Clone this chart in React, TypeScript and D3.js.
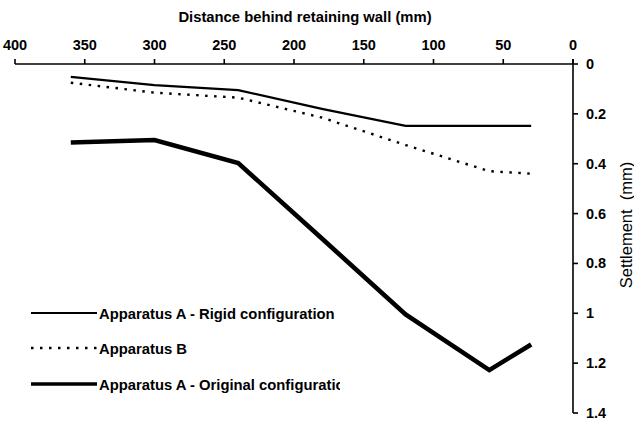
import React from "react";
import * as d3 from "d3";

const distances = [360, 300, 240, 180, 120, 60, 30];
const rigidA = [0.052, 0.085, 0.105, 0.18, 0.248, 0.248, 0.248];
const apparatusB = [0.075, 0.115, 0.135, 0.215, 0.325, 0.43, 0.44];
const originalA = [0.315, 0.305, 0.397, 0.7, 1.005, 1.228, 1.125];
const xTicks = [400, 350, 300, 250, 200, 150, 100, 50, 0];
const yTicks = [0, 0.2, 0.4, 0.6, 0.8, 1, 1.2, 1.4];
const seriesNames = [
  "Apparatus A - Rigid configuration",
  "Apparatus B",
  "Apparatus A - Original configuration",
];

const W = 634;
const H = 421;
const FONT = "'Liberation Sans', Arial, sans-serif";

export default function App() {
  const x = d3.scaleLinear().domain([400, 0]).range([15, 573]);
  const y = d3.scaleLinear().domain([0, 1.4]).range([64, 413]);
  const line = d3
    .line<[number, number]>()
    .x((d) => x(d[0]))
    .y((d) => y(d[1]));
  const mk = (vals: number[]) => line(distances.map((d, i) => [d, vals[i]] as [number, number])) || "";

  const series = [
    { vals: rigidA, width: 2.2, dash: undefined as string | undefined },
    { vals: apparatusB, width: 2.4, dash: "2.5 6.5" },
    { vals: originalA, width: 4.6, dash: undefined as string | undefined },
  ];
  const legendY = [313, 348, 384];

  return (
    <svg
      width={W}
      height={H}
      style={{ position: "absolute", left: 0, top: 0, background: "#fff" }}
      fontFamily={FONT}
    >
      <defs>
        <clipPath id="legclip">
          <rect x={0} y={0} width={340} height={H} />
        </clipPath>
      </defs>
      <rect width={W} height={H} fill="#fff" />
      {/* X axis title */}
      <text x={305} y={22} textAnchor="middle" fontSize={14.8} fontWeight="bold" fill="#000">
        Distance behind retaining wall (mm)
      </text>
      {/* X axis */}
      <line x1={x(400)} x2={x(0)} y1={y(0)} y2={y(0)} stroke="#000" strokeWidth={1.6} />
      {xTicks.map((t) => (
        <g key={t}>
          <line x1={x(t)} x2={x(t)} y1={y(0)} y2={y(0) - 5} stroke="#000" strokeWidth={1.6} />
          <text x={x(t)} y={50} textAnchor="middle" fontSize={14.5} fontWeight="bold" fill="#000">
            {t}
          </text>
        </g>
      ))}
      {/* Y axis */}
      <line x1={x(0)} x2={x(0)} y1={y(0) - 5} y2={y(1.4)} stroke="#000" strokeWidth={1.6} />
      {yTicks.map((t) => (
        <g key={t}>
          <line x1={x(0)} x2={x(0) + 5} y1={y(t)} y2={y(t)} stroke="#000" strokeWidth={1.6} />
          <text x={586} y={y(t) + 5} textAnchor="start" fontSize={14.5} fontWeight="bold" fill="#000">
            {d3.format("~g")(t)}
          </text>
        </g>
      ))}
      <text
        transform={`translate(632,225) rotate(-90)`}
        textAnchor="middle"
        fontSize={16.5}
        fill="#000"
        style={{ whiteSpace: "pre" }}
      >
        {"Settlement  (mm)"}
      </text>
      {/* Series */}
      {series.map((s, i) => (
        <path
          key={i}
          d={mk(s.vals)}
          fill="none"
          stroke="#000"
          strokeWidth={s.width}
          strokeDasharray={s.dash}
          strokeLinejoin="miter"
        />
      ))}
      {/* Legend */}
      <g clipPath="url(#legclip)">
        {series.map((s, i) => (
          <g key={i}>
            <line
              x1={31}
              x2={97}
              y1={legendY[i]}
              y2={legendY[i]}
              stroke="#000"
              strokeWidth={i === 2 ? 3.4 : s.width}
              strokeDasharray={s.dash}
            />
            <text x={99} y={legendY[i] + 5.5} fontSize={14.8} fontWeight="bold" fill="#000">
              {seriesNames[i]}
            </text>
          </g>
        ))}
      </g>
    </svg>
  );
}
